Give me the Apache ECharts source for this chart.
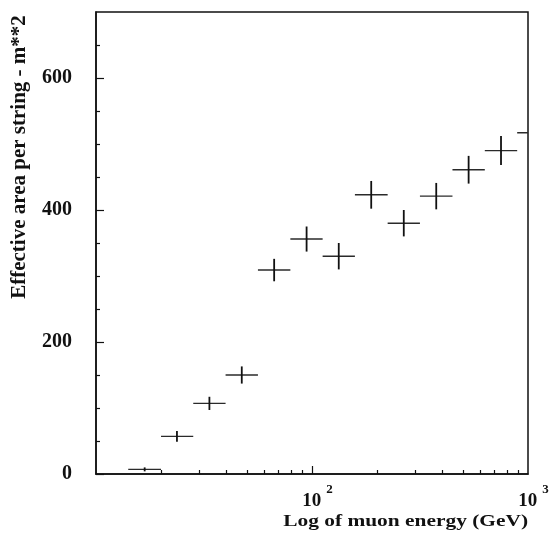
<!DOCTYPE html>
<html><head><meta charset="utf-8">
<script src="https://cdn.jsdelivr.net/npm/echarts@6/dist/echarts.min.js"></script>
<style>html,body{margin:0;padding:0;background:#fff}#c{width:554px;height:534px}</style>
</head><body><div id="c"></div>
<script>
// Muon energy bins (GeV): centre, lower and upper edge
const energyCenter = [16.8, 23.7, 33.5, 47.3, 66.8, 94.4, 133, 188, 266, 376, 531, 750, 1059];
const energyLo     = [14.1, 20.0, 28.2, 39.8, 56.2, 79.4, 112, 158, 224, 316, 447, 631, 891];
const energyHi     = [20.0, 28.2, 39.8, 56.2, 79.4, 112, 158, 224, 316, 447, 631, 891, 1259];
// Effective area per string (m**2) and its error
const area    = [7, 57, 107, 150, 309, 356, 330, 423, 380, 421, 461, 490, 517];
const areaErr = [3, 8, 10, 13, 17, 19, 20, 21, 20, 20, 21, 22, 23];
// Tick values
const yMajorTicks = [0, 200, 400, 600];
const yMinorTicks = [50, 100, 150, 250, 300, 350, 450, 500, 550, 650];
const xLabelTicks = [100, 1000];
const xMajorTicks = [100];
const xMinorTicks = [20, 30, 40, 50, 60, 70, 80, 90, 200, 300, 400, 500, 600, 700, 800, 900];

const FONT = '"Liberation Serif", "Times New Roman", serif';
const INK = '#111';
const chart = echarts.init(document.getElementById('c'), null, {renderer: 'canvas'});

const baseX = {type: 'log', logBase: 10, min: 10, max: 1000, position: 'bottom',
  axisLine: {onZero: false, lineStyle: {color: INK, width: 1.5}}, splitLine: {show: false}};
const baseY = {type: 'value', min: 0, max: 700, position: 'left',
  axisLine: {onZero: false, lineStyle: {color: INK, width: 1.5}}, splitLine: {show: false}};

chart.setOption({
  animation: false,
  grid: {left: 96, right: 26, top: 12, bottom: 60, show: true, borderColor: INK, borderWidth: 1.5, backgroundColor: 'transparent'},
  xAxis: [
    Object.assign({}, baseX, {
      axisTick: {show: true, inside: true, length: 8, customValues: xMajorTicks, lineStyle: {color: INK, width: 1.2}},
      axisLabel: {show: true, customValues: xLabelTicks, margin: 9, padding: [0, 0, 0, 11],
        formatter: v => '{a|10}{s|' + Math.round(Math.log10(v)) + '}',
        rich: {
          a: {fontFamily: FONT, fontWeight: 'bold', fontSize: 19, color: INK, lineHeight: 28, verticalAlign: 'bottom'},
          s: {fontFamily: FONT, fontWeight: 'bold', fontSize: 13, color: INK, lineHeight: 13, verticalAlign: 'top', padding: [0, 0, 0, 5]}
        }}
    }),
    Object.assign({}, baseX, {
      axisLine: {show: false, onZero: false},
      axisTick: {show: true, inside: true, length: 4, customValues: xMinorTicks, lineStyle: {color: INK, width: 1.2}},
      axisLabel: {show: false}
    })
  ],
  yAxis: [
    Object.assign({}, baseY, {
      axisTick: {show: true, inside: true, length: 8, customValues: yMajorTicks, lineStyle: {color: INK, width: 1.2}},
      axisLabel: {show: true, customValues: yMajorTicks, margin: 24, fontFamily: FONT, fontWeight: 'bold', fontSize: 20, color: INK}
    }),
    Object.assign({}, baseY, {
      axisLine: {show: false, onZero: false},
      axisTick: {show: true, inside: true, length: 4, customValues: yMinorTicks, lineStyle: {color: INK, width: 1.2}},
      axisLabel: {show: false}
    })
  ],
  graphic: [
    {type: 'text', x: 528, y: 522, scaleY: 0.78,
      style: {text: 'Log of muon energy (GeV)', font: 'bold 21.4px ' + FONT, fill: INK, align: 'right', verticalAlign: 'middle'}},
    {type: 'text', x: 20, y: 157, rotation: Math.PI / 2,
      style: {text: 'Effective area per string - m**2', font: 'bold 21px ' + FONT, fill: INK, align: 'center', verticalAlign: 'middle'}}
  ],
  series: [{
    type: 'custom', xAxisIndex: 0, yAxisIndex: 0, clip: true,
    data: area.map((a, i) => [energyCenter[i], a, energyLo[i], energyHi[i], areaErr[i]]),
    encode: {x: 0, y: 1},
    renderItem: function (params, api) {
      const y = api.value(1), e = api.value(4);
      const l = api.coord([api.value(2), y]);
      const r = api.coord([api.value(3), y]);
      const t = api.coord([api.value(0), y + e]);
      const b = api.coord([api.value(0), y - e]);
      return {type: 'group', children: [
        {type: 'line', shape: {x1: l[0], y1: l[1], x2: r[0], y2: r[1]}, style: {stroke: '#2a2a2a', lineWidth: 1.4}},
        {type: 'line', shape: {x1: t[0], y1: t[1], x2: b[0], y2: b[1]}, style: {stroke: INK, lineWidth: 1.8}}
      ]};
    }
  }]
});
</script></body></html>
